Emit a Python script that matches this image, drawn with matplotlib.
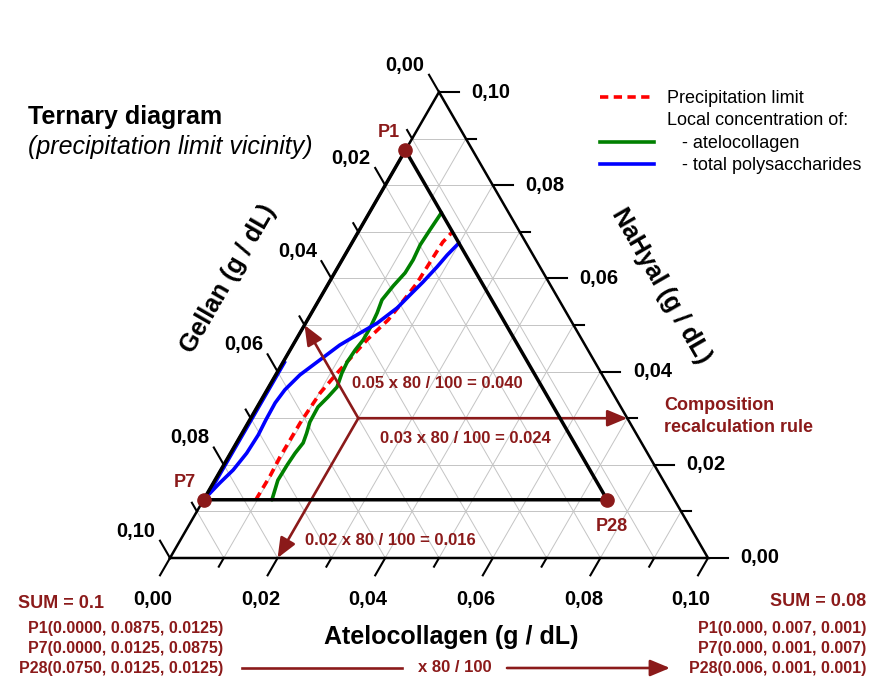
import numpy as np
import matplotlib.pyplot as plt
from matplotlib.lines import Line2D

plt.rcParams['font.family'] = ['Liberation Sans', 'DejaVu Sans']

W, H = 872, 678
TOTAL = 0.10             # g/dL at each corner
SIDE_PX = 538            # triangle side length on the canvas
ORIGIN_PX = (170, 558)   # pure gellan corner
PX = TOTAL / SIDE_PX     # data units per pixel
H3 = np.sqrt(3) / 2

DARK_RED = '#8b1a1a'
GRID = '#c4c4c4'

# axis ticks (g/dL), same for all three sides
major_ticks = [0.00, 0.02, 0.04, 0.06, 0.08, 0.10]
major_labels = ['0,00', '0,02', '0,04', '0,06', '0,08', '0,10']
minor_ticks = [0.01, 0.03, 0.05, 0.07, 0.09]
grid_levels = [0.01, 0.02, 0.03, 0.04, 0.05, 0.06, 0.07, 0.08, 0.09]

# corners of the sub-triangle: (atelocollagen, NaHyal, gellan)
point_names = ['P1', 'P7', 'P28']
point_atelo = [0.0000, 0.0000, 0.0750]
point_nahyal = [0.0875, 0.0125, 0.0125]
point_gellan = [0.0125, 0.0875, 0.0125]
point_label_offsets = [(-17, 18), (-19, 17), (5, -27)]

# example composition used for the recalculation rule
example_atelo = 0.02
example_nahyal = 0.03
example_gellan = 0.05
scale_pct = 80

# precipitation limit
precip_atelo = [0.0097, 0.0098, 0.0096, 0.0097, 0.0102, 0.0114, 0.0132,
                0.0150, 0.0156, 0.0164, 0.0166, 0.0168, 0.0175]
precip_nahyal = [0.0125, 0.0176, 0.0217, 0.0290, 0.0354, 0.0404, 0.0468,
                 0.0511, 0.0543, 0.0590, 0.0635, 0.0678, 0.0700]

# local atelocollagen concentration
collagen_atelo = [0.0127, 0.0117, 0.0118, 0.0120, 0.0124, 0.0120, 0.0114,
                  0.0113, 0.0121, 0.0127, 0.0121, 0.0119, 0.0121, 0.0125,
                  0.0125, 0.0122, 0.0117, 0.0123, 0.0131, 0.0132, 0.0129,
                  0.0131, 0.0134]
collagen_nahyal = [0.0125, 0.0167, 0.0200, 0.0225, 0.0247, 0.0268, 0.0292,
                   0.0324, 0.0346, 0.0367, 0.0397, 0.0421, 0.0446, 0.0468,
                   0.0494, 0.0526, 0.0554, 0.0584, 0.0612, 0.0640, 0.0672,
                   0.0704, 0.0741]

# local total polysaccharide concentration
poly_atelo = [0.0000, 0.0012, 0.0023, 0.0030, 0.0032, 0.0030, 0.0029,
              0.0033, 0.0045, 0.0066, 0.0087, 0.0112, 0.0133, 0.0154,
              0.0164, 0.0174, 0.0184, 0.0190, 0.0199]
poly_nahyal = [0.0125, 0.0161, 0.0189, 0.0225, 0.0264, 0.0296, 0.0333,
               0.0361, 0.0393, 0.0425, 0.0457, 0.0483, 0.0504, 0.0537,
               0.0565, 0.0592, 0.0625, 0.0650, 0.0676]
poly_edge_atelo = [0.0004, 0.0004]
poly_edge_nahyal = [0.0125, 0.0420]

scaled_lines = ['P1(0.000, 0.007, 0.001)',
                'P7(0.000, 0.001, 0.007)',
                'P28(0.006, 0.001, 0.001)']


def to_xy(atelo, nahyal):
    atelo = np.asarray(atelo, dtype=float)
    nahyal = np.asarray(nahyal, dtype=float)
    return atelo + nahyal / 2, nahyal * H3


def pt(atelo, nahyal):
    x, y = to_xy(atelo, nahyal)
    return float(x), float(y)


def fig_xy(px, py):
    return px / W, 1 - py / H


fig = plt.figure(figsize=(W / 100, H / 100), dpi=100)
ax = fig.add_axes([0, 0, 1, 1])
ax.set_xlim(-ORIGIN_PX[0] * PX, (W - ORIGIN_PX[0]) * PX)
ax.set_ylim(-(H - ORIGIN_PX[1]) * PX, ORIGIN_PX[1] * PX)
ax.axis('off')

# grid, one family of lines per component
for v in grid_levels:
    for a, n in (([v, v], [0, TOTAL - v]),
                 ([0, TOTAL - v], [v, v]),
                 ([0, TOTAL - v], [TOTAL - v, 0])):
        ax.plot(*to_xy(a, n), color=GRID, lw=0.7, zorder=1)

# outer triangle
ax.plot(*to_xy([0, TOTAL, 0, 0], [0, 0, TOTAL, 0]), color='black', lw=1.8,
        solid_joinstyle='miter', zorder=3)


def draw_ticks(values, length):
    d = length * PX
    for v in values:
        x0, y0 = pt(v, 0)                       # atelocollagen
        ax.plot([x0, x0 - 0.5 * d], [y0, y0 - H3 * d], color='black', lw=1.5, zorder=3)
        x0, y0 = pt(0, TOTAL - v)               # gellan
        ax.plot([x0, x0 - 0.5 * d], [y0, y0 + H3 * d], color='black', lw=1.5, zorder=3)
        x0, y0 = pt(TOTAL - v, v)               # NaHyal
        ax.plot([x0, x0 + d], [y0, y0], color='black', lw=1.5, zorder=3)


draw_ticks(major_ticks, 20)
draw_ticks(minor_ticks, 10)

tick_font = dict(fontsize=14.5, fontweight='bold', ha='center', va='center',
                 textcoords='offset pixels')
for v, lab in zip(major_ticks, major_labels):
    ax.annotate(lab, pt(v, 0), xytext=(-17, -42), **tick_font)
    ax.annotate(lab, pt(0, TOTAL - v), xytext=(-34, 27), **tick_font)
    ax.annotate(lab, pt(TOTAL - v, v), xytext=(52, 0), **tick_font)

# axis titles
title_font = dict(fontsize=18, fontweight='bold', ha='center', va='center')
fig.text(*fig_xy(451, 637), 'Atelocollagen (g / dL)', **title_font)
fig.text(*fig_xy(228, 279), 'Gellan (g / dL)', rotation=60, **title_font)
fig.text(*fig_xy(661, 286), 'NaHyal (g / dL)', rotation=-60, **title_font)

fig.text(*fig_xy(28, 117), 'Ternary diagram', fontsize=18, fontweight='bold',
         ha='left', va='center')
fig.text(*fig_xy(28, 147), '(precipitation limit vicinity)', fontsize=18,
         style='italic', ha='left', va='center')

# concentration curves
ax.plot(*to_xy(poly_edge_atelo, poly_edge_nahyal), color='#0000ff', lw=1.8, zorder=2)
ax.plot(*to_xy(precip_atelo, precip_nahyal), color='#ff0000', lw=2.6,
        linestyle=(0, (2.3, 1.5)), zorder=4)
ax.plot(*to_xy(collagen_atelo, collagen_nahyal), color='#008000', lw=2.6,
        solid_joinstyle='round', solid_capstyle='round', zorder=4)
ax.plot(*to_xy(poly_atelo, poly_nahyal), color='#0000ff', lw=2.6,
        solid_joinstyle='round', solid_capstyle='round', zorder=4)

# recalculation rule arrows
origin = pt(example_atelo, example_nahyal)
arrow = dict(arrowstyle='-|>,head_length=0.6,head_width=0.25', color=DARK_RED,
             lw=1.9, shrinkA=0, shrinkB=0, mutation_scale=20)
targets = [pt(0, TOTAL - example_gellan),
           pt(TOTAL - example_nahyal, example_nahyal),
           pt(example_atelo, 0)]
for tgt in targets:
    ax.annotate('', xy=tgt, xytext=origin, arrowprops=arrow, zorder=4)

rule_values = [example_gellan, example_nahyal, example_atelo]
rule_offsets = [(-6, 35), (22, -20), (-53, -122)]
for v, off in zip(rule_values, rule_offsets):
    ax.annotate(f'{v:.2f} x {scale_pct} / 100 = {v * scale_pct / 100:.3f}', origin,
                xytext=off, textcoords='offset pixels', fontsize=12,
                fontweight='bold', color=DARK_RED, ha='left', va='center', zorder=6)

fig.text(*fig_xy(664, 405), 'Composition', fontsize=13, fontweight='bold',
         color=DARK_RED, ha='left', va='center')
fig.text(*fig_xy(664, 427), 'recalculation rule', fontsize=13, fontweight='bold',
         color=DARK_RED, ha='left', va='center')

# sub-triangle and its corners
ax.plot(*to_xy(point_atelo + point_atelo[:1], point_nahyal + point_nahyal[:1]),
        color='black', lw=2.5, solid_joinstyle='miter', zorder=5)
ax.plot(*to_xy(point_atelo, point_nahyal), 'o', ms=9.5, color=DARK_RED, zorder=7)
for name, a, n, off in zip(point_names, point_atelo, point_nahyal, point_label_offsets):
    ax.annotate(name, pt(a, n), xytext=off, textcoords='offset pixels', fontsize=13,
                fontweight='bold', color=DARK_RED, ha='center', va='center')

# legend
handles = [Line2D([], [], color='#ff0000', lw=2.6, linestyle=(0, (2.3, 1.5))),
           Line2D([], [], color='none'),
           Line2D([], [], color='#008000', lw=2.6),
           Line2D([], [], color='#0000ff', lw=2.6)]
labels = ['Precipitation limit', 'Local concentration of:',
          '   - atelocollagen', '   - total polysaccharides']
ax.legend(handles, labels, loc='upper left', bbox_to_anchor=fig_xy(600, 90),
          bbox_transform=fig.transFigure, frameon=False, borderpad=0,
          borderaxespad=0, handlelength=3.0, handletextpad=0.7,
          labelspacing=0.3, fontsize=13)

# compositions before and after recalculation
small = dict(fontsize=11.5, fontweight='bold', color=DARK_RED, va='center')
fig.text(*fig_xy(18, 603), f'SUM = {TOTAL:g}', ha='left', **dict(small, fontsize=13))
fig.text(*fig_xy(866, 601), f'SUM = {TOTAL * scale_pct / 100:g}', ha='right',
         **dict(small, fontsize=13))
rows_y = [628, 648, 668]
for name, a, n, g, y in zip(point_names, point_atelo, point_nahyal, point_gellan, rows_y):
    fig.text(*fig_xy(223, y), f'{name}({a:.4f}, {n:.4f}, {g:.4f})', ha='right', **small)
for line, y in zip(scaled_lines, rows_y):
    fig.text(*fig_xy(866, y), line, ha='right', **small)

fig.add_artist(Line2D([242 / W, 402 / W], [1 - 668 / H] * 2, color=DARK_RED, lw=1.9))
ax.annotate('', xy=fig_xy(670, 668), xytext=fig_xy(507, 668),
            xycoords='figure fraction', textcoords='figure fraction', arrowprops=arrow)
fig.text(*fig_xy(455, 668), f'x {scale_pct} / 100', fontsize=12, fontweight='bold',
         color=DARK_RED, ha='center', va='center')

fig.savefig('out.png', dpi=100, facecolor='white')
